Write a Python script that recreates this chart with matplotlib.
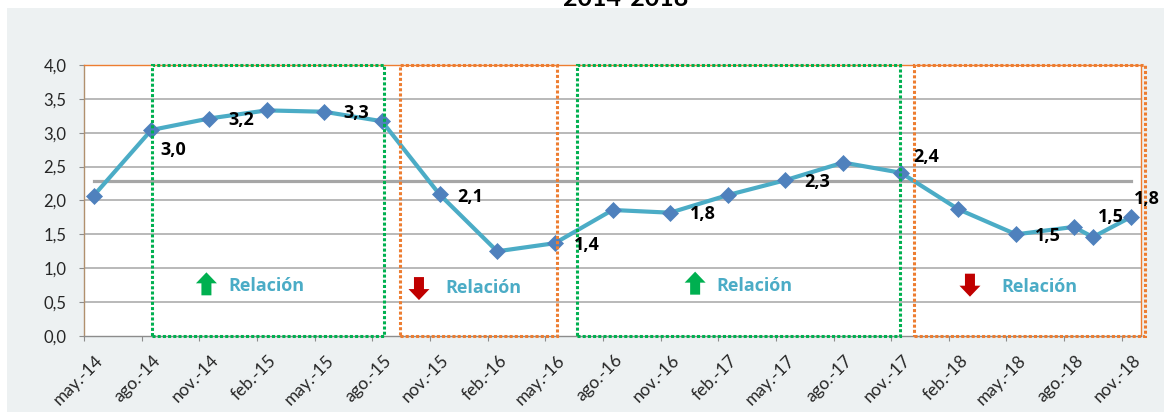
import numpy as np
import matplotlib
matplotlib.use("Agg")
import matplotlib.pyplot as plt
import matplotlib.patches as mpatches
import matplotlib.transforms as mtrans

plt.rcParams['font.family'] = ['Lato', 'DejaVu Sans']

# ── Data ────────────────────────────────────────────────────────────────
point_dates = ['2014-05', '2014-08', '2014-11', '2015-02', '2015-05', '2015-08',
               '2015-11', '2016-02', '2016-05', '2016-08', '2016-11', '2017-02',
               '2017-05', '2017-08', '2017-11', '2018-02', '2018-05', '2018-08',
               '2018-09', '2018-11']
values = [2.07, 3.04, 3.21, 3.33, 3.31, 3.17,
          2.09, 1.25, 1.37, 1.86, 1.82, 2.08,
          2.30, 2.56, 2.41, 1.87, 1.50, 1.61,
          1.46, 1.76]
average = 2.29

month_names = ['ene.', 'feb.', 'mar.', 'abr.', 'may.', 'jun.',
               'jul.', 'ago.', 'sep.', 'oct.', 'nov.', 'dic.']
start_year, start_month = 2014, 5
n_months = 55                      # may.-14 ... nov.-18

labelled = [1, 2, 4, 6, 8, 10, 12, 14, 16, 18, 19]

# trend periods: (start, end) in months from may.-14, direction
periods = [(3.55, 15.62, 'up'), (16.46, 24.63, 'down'),
           (25.67, 42.47, 'up'), (43.18, 55.19, 'down')]
period_text = 'Relación'

title = '2014-2018'


def month_index(s):
    y, m = map(int, s.split('-'))
    return (y - start_year) * 12 + (m - start_month)


x = np.array([month_index(d) for d in point_dates]) + 0.5

# ── Figure ──────────────────────────────────────────────────────────────
fig = plt.figure(figsize=(11.64, 4.12), dpi=100, facecolor='white')
fig.patches.append(mpatches.Rectangle((7 / 1164, 0), 1, (412 - 8) / 412,
                                      transform=fig.transFigure,
                                      facecolor='#EDF1F2', edgecolor='none',
                                      zorder=-10))
ax = fig.add_axes([84 / 1164, (412 - 336) / 412,
                   (1141 - 84) / 1164, (336 - 65) / 412])
ax.set_zorder(1)
ax.set_facecolor('white')

ax.set_xlim(0, n_months)
ax.set_ylim(0, 4)
yt = np.arange(0, 4.01, 0.5)
ax.set_yticks(yt)
ax.set_yticklabels([f"{v:.1f}".replace('.', ',') for v in yt])
for v in yt[1:-1]:
    ax.axhline(v, color='#A6A6A6', lw=1.1, zorder=1)

xt = np.arange(0, n_months, 3)
ax.set_xticks(xt)
xl = []
for t in xt:
    m = (start_month - 1 + t) % 12
    yy = start_year + (start_month - 1 + t) // 12
    xl.append(f"{month_names[m]}-{yy % 100:02d}")
ax.set_xticklabels(xl, rotation=45, ha='right', va='top',
                   rotation_mode='anchor')

ax.tick_params(axis='both', direction='out', length=3.5, color='#8C8C8C',
               labelcolor='#262626')
ax.tick_params(axis='y', labelsize=12, pad=9)
ax.tick_params(axis='x', labelsize=12.5, pad=3)
shift = mtrans.ScaledTranslation(0.11, -0.07, fig.dpi_scale_trans)
for lab in ax.get_xticklabels():
    lab.set_transform(lab.get_transform() + shift)

ax.spines['top'].set_color('#ED7D31')
ax.spines['right'].set_color('#ED7D31')
ax.spines['left'].set_color('#B0906E')
ax.spines['bottom'].set_color('#8C8C8C')
for s in ax.spines.values():
    s.set_linewidth(1.0)

# average line
ax.plot([x[0], x[-1]], [average, average], color='#A6A6A6', lw=2.3, zorder=2)

# series
ax.plot(x, values, color='#4BACC6', lw=3, zorder=4,
        marker='D', ms=8.5, mfc='#4F81BD', mec='#4F81BD', mew=0.5)

# data labels
label_offsets = {1: (15.6, -14.7), 2: (23, -1.2), 4: (23, -1), 6: (22.3, -1.7),
                 8: (23, -1.2), 10: (23.8, -1), 12: (23, -1.2), 14: (18.5, 11.1),
                 16: (23.2, -1.2), 18: (13.2, 14.8), 19: (11.3, 12.7)}
for i in labelled:
    ax.annotate(f"{values[i]:.1f}".replace('.', ','), (x[i], values[i]),
                xytext=label_offsets[i], textcoords='offset points',
                ha='center', va='center', fontsize=13, fontweight='bold',
                family=['Open Sans', 'DejaVu Sans'],
                color='black', zorder=6, annotation_clip=False)

# trend boxes, arrows and texts
arrow_pos = [(6.37, 0.77), (17.43, 0.70), (31.8, 0.78), (46.1, 0.75)]
text_pos = [(7.49, 0.665), (18.78, 0.64), (32.88, 0.66), (47.75, 0.655)]
up = np.array([(0, 0.115), (-0.105, 0.005), (-0.05, 0.005), (-0.05, -0.115),
               (0.05, -0.115), (0.05, 0.005), (0.105, 0.005)])
for (x0, x1, d), (ax_, ay_), (tx, ty) in zip(periods, arrow_pos, text_pos):
    col = '#00B050' if d == 'up' else '#ED7D31'
    ax.add_patch(mpatches.Rectangle((x0, 0), x1 - x0, 4, fill=False,
                                    edgecolor=col, lw=2.2,
                                    linestyle=(0, (1, 0.7)),
                                    clip_on=False, zorder=5))
    verts = up if d == 'up' else up * np.array([1, -1])
    tr = fig.dpi_scale_trans + mtrans.ScaledTranslation(ax_, ay_, ax.transData)
    ax.add_patch(mpatches.Polygon(verts, closed=True, transform=tr,
                                  facecolor='#00B050' if d == 'up' else '#C00000',
                                  edgecolor='none', zorder=5))
    ax.text(tx, ty, period_text, fontsize=13, fontweight='bold',
            family=['Open Sans', 'DejaVu Sans'],
            color='#4BACC6', ha='left', va='baseline', zorder=5)

fig.text(0.5 + 44 / 1164, (412 - 6) / 412, title, fontsize=18,
         fontweight='bold', ha='center', va='baseline', color='black')

fig.savefig('out.png', dpi=100, facecolor=fig.get_facecolor())
